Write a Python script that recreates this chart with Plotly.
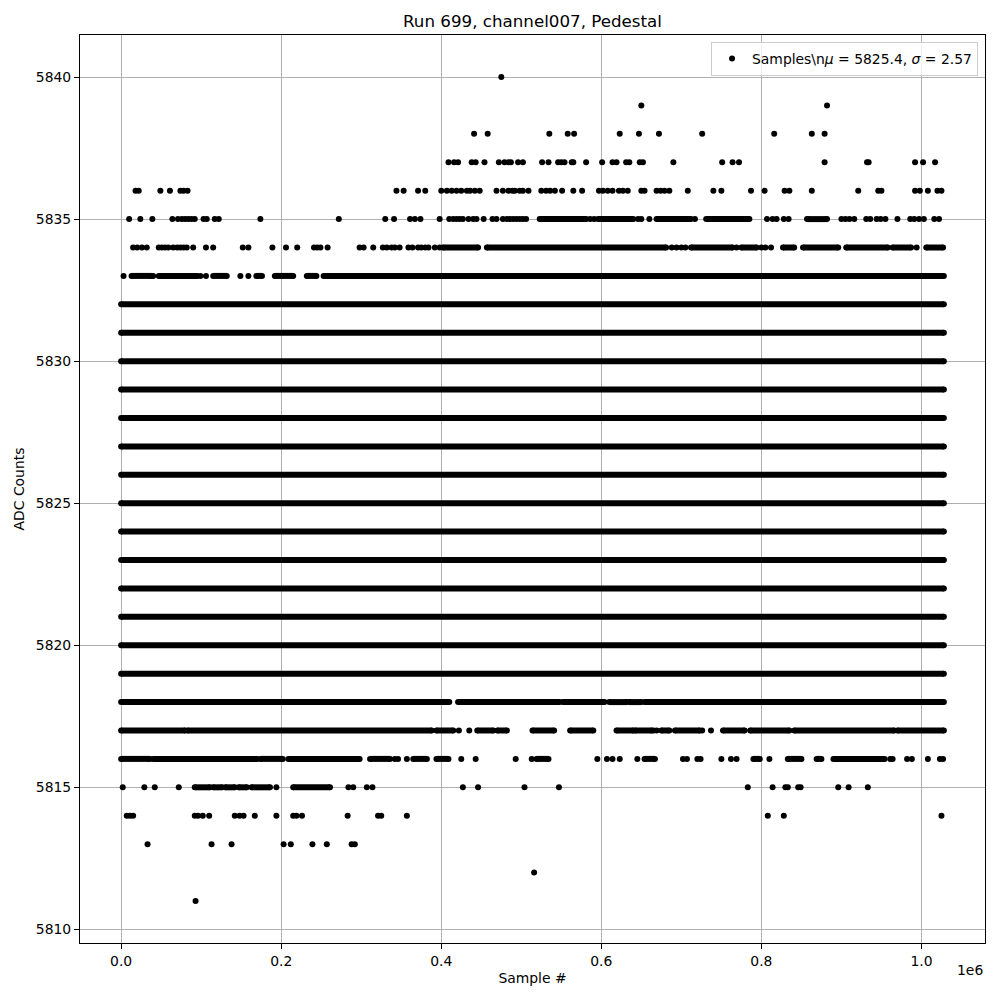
import plotly.graph_objects as go

# x positions are in thousands of samples; y levels are ADC counts
DATA_END = 1028

pts_5840 = [475]
pts_5839 = [650, 882]
pts_5838 = [441, 458, 535, 558, 566, 623, 647, 672, 726, 816, 863, 879]
pts_5837 = [409, 416, 421, 438, 443, 454, 472, 479, 484, 487, 496, 502, 526, 534, 546, 550,
            554, 563, 565, 581, 601, 614, 619, 631, 635, 648, 652, 690, 751, 764, 772, 879,
            932, 934, 992, 1002, 1017]
pts_5836 = [18, 22, 49, 61, 74, 78, 83, 344, 353, 371, 380, 400, 407, 413, 419, 425, 432, 436,
            442, 448, 469, 477, 484, 489, 492, 498, 502, 509, 525, 531, 536, 542, 551, 565,
            576, 597, 602, 608, 614, 622, 627, 633, 650, 654, 669, 674, 679, 685, 708, 740,
            750, 787, 804, 829, 835, 863, 921, 946, 950, 992, 998, 1008, 1020, 1025]
pts_5835 = [10, 24, 39, 64, 71, 76, 80, 84, 88, 92, 103, 107, 117, 122, 174, 272, 330, 341,
            361, 367, 374, 398, 410, 415, 419, 423, 427, 434, 440, 444, 453, 464, 469, 477,
            482, 486, 490, 494, 498, 502, 506, 586, 591, 646, 650, 660, 700, 706, 712, 717,
            807, 814, 819, 828, 834, 900, 905, 910, 916, 931, 936, 944, 949, 955, 970, 986,
            991, 997, 1003, 1016, 1022]
runs_5835 = [(523, 581), (596, 640), (669, 710), (731, 785), (857, 882)]
pts_5834 = [15, 20, 26, 32, 47, 51, 55, 59, 65, 70, 74, 78, 82, 90, 106, 115, 152, 159, 189,
            206, 220, 241, 245, 249, 258, 298, 303, 315, 327, 332, 338, 342, 348, 359, 364,
            371, 375, 380, 384, 392, 398, 688, 694, 700, 705, 769, 800, 805, 812, 994]
runs_5834 = [(402, 446), (457, 681), (712, 764), (775, 794), (827, 841), (852, 896),
             (906, 958), (964, 987), (1006, 1027)]
pts_5833 = [3, 40, 99, 106, 149, 159]
runs_5833 = [(13, 38), (47, 95), (115, 132), (169, 176), (192, 215), (232, 244), (253, 1028)]
full_levels = [5832, 5831, 5830, 5829, 5828, 5827, 5826, 5825, 5824, 5823, 5822, 5821,
               5820, 5819]
runs_5818 = [(0, 410), (421, 548), (552, 604), (610, 632), (635, 650), (654, 1028)]
runs_5817 = [(0, 80), (83, 388), (394, 415), (445, 465), (470, 482), (514, 541), (561, 590),
             (619, 640), (642, 663), (675, 685), (692, 723), (752, 779), (786, 835),
             (841, 966), (970, 1028)]
pts_5817 = [422, 435, 665, 669, 726, 737]
runs_5816 = [(0, 36), (40, 83), (85, 170), (174, 202), (209, 298), (311, 336), (365, 382),
             (394, 409), (519, 534), (654, 667), (790, 798), (833, 850), (869, 875), (890, 954)]
pts_5816 = [342, 346, 357, 425, 443, 493, 513, 595, 607, 614, 623, 645, 702, 707, 720, 724,
            750, 762, 769, 810, 961, 964, 982, 988, 1008, 1023, 1027]
runs_5815 = [(92, 111), (115, 126), (130, 142), (147, 157), (163, 186), (215, 261)]
pts_5815 = [2, 29, 42, 72, 194, 284, 290, 307, 314, 427, 446, 504, 547, 783, 814, 830, 833,
            846, 849, 896, 909, 933]
pts_5814 = [7, 11, 15, 92, 96, 102, 110, 142, 148, 153, 167, 194, 215, 219, 226, 283, 321,
            325, 357, 808, 828, 1025]
pts_5813 = [33, 113, 138, 203, 212, 239, 257, 288, 292]
pts_5812 = [516]
pts_5811 = [93]

point_sets = [(5840, pts_5840), (5839, pts_5839), (5838, pts_5838), (5837, pts_5837),
              (5836, pts_5836), (5835, pts_5835), (5834, pts_5834), (5833, pts_5833),
              (5817, pts_5817), (5816, pts_5816), (5815, pts_5815), (5814, pts_5814),
              (5813, pts_5813), (5812, pts_5812), (5811, pts_5811)]
run_sets = [(5835, runs_5835), (5834, runs_5834), (5833, runs_5833), (5818, runs_5818),
            (5817, runs_5817), (5816, runs_5816), (5815, runs_5815)]
run_sets += [(lv, [(0, DATA_END)]) for lv in full_levels]

SCALE = 1000.0  # thousands of samples -> units of 1e6

px, py = [], []
for lv, xs in point_sets:
    for x in xs:
        px.append(x / SCALE)
        py.append(lv)

rx, ry = [], []
for lv, segs in run_sets:
    for a, b in segs:
        rx += [a / SCALE, b / SCALE, None]
        ry += [lv, lv, None]

FONT = "DejaVu Sans"

fig = go.Figure()
fig.add_trace(go.Scatter(x=rx, y=ry, mode="lines+markers", showlegend=False,
                         line=dict(color="black", width=6),
                         marker=dict(color="black", size=6), hoverinfo="skip"))
fig.add_trace(go.Scatter(x=px, y=py, mode="markers",
                         name="Samples\\n<i>μ</i> = 5825.4, <i>σ</i> = 2.57",
                         marker=dict(color="black", size=6)))

axis_common = dict(showline=True, mirror=True, linecolor="black", linewidth=1,
                   ticks="outside", ticklen=5, tickwidth=1, tickcolor="black",
                   showgrid=True, gridcolor="#b0b0b0", gridwidth=1, zeroline=False,
                   tickfont=dict(family=FONT, size=13.9, color="black"))

fig.update_layout(
    width=992, height=992,
    margin=dict(l=72, r=15, t=27, b=57),
    plot_bgcolor="white", paper_bgcolor="white",
    font=dict(family=FONT, size=13.9, color="black"),
    title=dict(text="Run 699, channel007, Pedestal", x=0.5, xref="paper",
               y=1 - 13 / 992, yref="container", xanchor="center", yanchor="middle",
               font=dict(family=FONT, size=16.7, color="black")),
    xaxis=dict(range=[-0.0514, 1.0794], tickvals=[0, 0.2, 0.4, 0.6, 0.8, 1.0],
               ticktext=["0.0", "0.2", "0.4", "0.6", "0.8", "1.0"],
               title=dict(text="Sample #", standoff=5,
                          font=dict(family=FONT, size=13.9, color="black")),
               **axis_common),
    yaxis=dict(range=[5809.52, 5841.48], tickvals=[5810, 5815, 5820, 5825, 5830, 5835, 5840],
               title=dict(text="ADC Counts", standoff=7,
                          font=dict(family=FONT, size=13.9, color="black")),
               **axis_common),
    legend=dict(x=0.9923, y=0.9923, xanchor="right", yanchor="top",
                bgcolor="rgba(255,255,255,0.8)", bordercolor="#cccccc", borderwidth=1,
                font=dict(family=FONT, size=13.9, color="black")),
    annotations=[dict(text="1e6", x=1.0, y=-0.0297, xref="paper", yref="paper",
                      xanchor="right", yanchor="middle", showarrow=False,
                      font=dict(family=FONT, size=13.9, color="black"))],
)

fig.write_html("out.html")
